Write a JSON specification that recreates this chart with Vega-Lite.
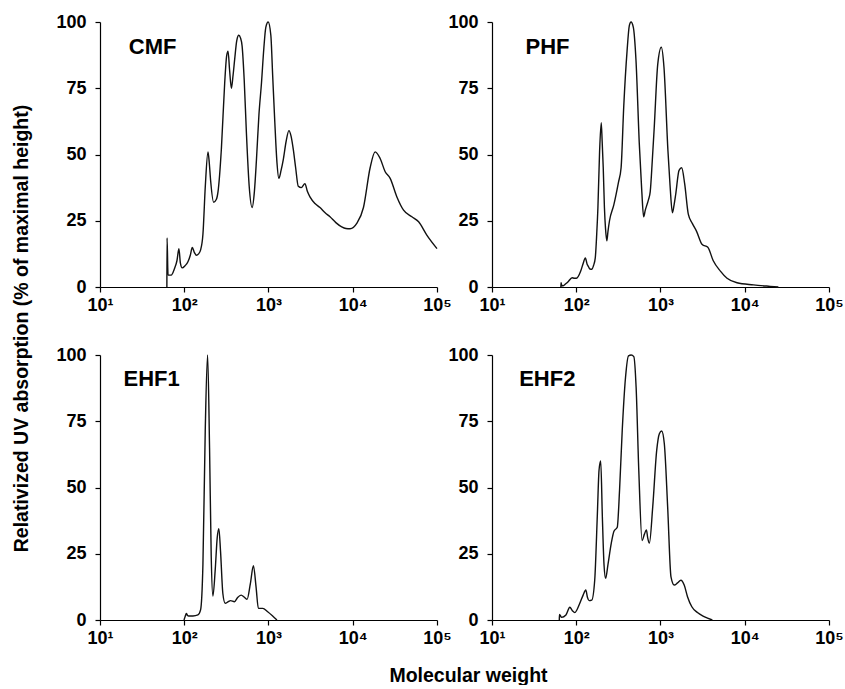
{
  "$schema": "https://vega.github.io/schema/vega-lite/v6.json",
  "background": "white",
  "padding": {"left": 11, "top": 13, "right": 5, "bottom": 0},
  "bounds": "flush",
  "columns": 2,
  "spacing": {"row": 68, "column": 55},
  "config": {
    "view": {"stroke": null},
    "font": "Liberation Sans",
    "axis": {
      "grid": false,
      "domainColor": "#000",
      "domainWidth": 1.2,
      "tickColor": "#000",
      "tickWidth": 1.2,
      "tickSize": 5,
      "labelFont": "Liberation Sans",
      "labelFontWeight": "bold",
      "labelFontSize": 18,
      "labelColor": "#000",
      "labelFlush": false,
      "titleFont": "Liberation Sans",
      "titleFontWeight": "bold",
      "titleFontSize": 19.5,
      "titleColor": "#000"
    },
    "axisX": {"labelPadding": 4},
    "axisY": {"labelPadding": 9}
  },
  "datasets": {
    "cmf": [
      {"mw": 62.2, "uv": 0}, {"mw": 62.5, "uv": 18.5}, {"mw": 64.2, "uv": 4.5}, {"mw": 70, "uv": 4.5},
      {"mw": 76.7, "uv": 7}, {"mw": 82, "uv": 10}, {"mw": 86.4, "uv": 14.5}, {"mw": 90, "uv": 9},
      {"mw": 94.6, "uv": 7.2}, {"mw": 102, "uv": 8}, {"mw": 110.6, "uv": 9.5}, {"mw": 118, "uv": 12},
      {"mw": 124.5, "uv": 14.9}, {"mw": 132, "uv": 13}, {"mw": 139, "uv": 12}, {"mw": 148, "uv": 12.5},
      {"mw": 156.4, "uv": 14}, {"mw": 166.7, "uv": 20}, {"mw": 177.8, "uv": 38}, {"mw": 191.3, "uv": 51},
      {"mw": 198, "uv": 47}, {"mw": 205.8, "uv": 40}, {"mw": 223.5, "uv": 32}, {"mw": 240, "uv": 33},
      {"mw": 251.7, "uv": 36}, {"mw": 275.7, "uv": 52}, {"mw": 302, "uv": 77}, {"mw": 318, "uv": 87},
      {"mw": 331, "uv": 89}, {"mw": 345, "uv": 82}, {"mw": 362.6, "uv": 75}, {"mw": 380, "uv": 80},
      {"mw": 397, "uv": 86}, {"mw": 420, "uv": 93}, {"mw": 443.6, "uv": 95}, {"mw": 465, "uv": 94},
      {"mw": 485.9, "uv": 91}, {"mw": 515, "uv": 78}, {"mw": 547, "uv": 58}, {"mw": 590, "uv": 38},
      {"mw": 639, "uv": 30}, {"mw": 680, "uv": 36}, {"mw": 719.5, "uv": 48}, {"mw": 770, "uv": 65},
      {"mw": 825.4, "uv": 77}, {"mw": 880, "uv": 90}, {"mw": 929, "uv": 98}, {"mw": 991, "uv": 100},
      {"mw": 1066, "uv": 95}, {"mw": 1120, "uv": 80}, {"mw": 1189, "uv": 62}, {"mw": 1260, "uv": 47},
      {"mw": 1327, "uv": 41}, {"mw": 1410, "uv": 44}, {"mw": 1496, "uv": 48}, {"mw": 1620, "uv": 55},
      {"mw": 1747, "uv": 59}, {"mw": 1850, "uv": 57}, {"mw": 1967, "uv": 52}, {"mw": 2100, "uv": 45},
      {"mw": 2256, "uv": 38}, {"mw": 2450, "uv": 37.5}, {"mw": 2707, "uv": 39}, {"mw": 2900, "uv": 36},
      {"mw": 3105, "uv": 34}, {"mw": 3562, "uv": 31.5}, {"mw": 4085, "uv": 30}, {"mw": 4700, "uv": 28},
      {"mw": 5373, "uv": 26.5}, {"mw": 6300, "uv": 24.3}, {"mw": 7396, "uv": 22.7}, {"mw": 8300, "uv": 22.1},
      {"mw": 9292, "uv": 22}, {"mw": 11160, "uv": 24}, {"mw": 13400, "uv": 30}, {"mw": 16080, "uv": 45},
      {"mw": 18450, "uv": 51}, {"mw": 21150, "uv": 48.5}, {"mw": 24260, "uv": 43.5}, {"mw": 27810, "uv": 41},
      {"mw": 33420, "uv": 34}, {"mw": 40100, "uv": 29}, {"mw": 50360, "uv": 26.5}, {"mw": 60510, "uv": 24.6},
      {"mw": 76040, "uv": 19.5}, {"mw": 100000, "uv": 14.5}
    ],
    "phf": [
      {"mw": 65.7, "uv": 0}, {"mw": 66, "uv": 1.6}, {"mw": 67.5, "uv": 0.5}, {"mw": 69.9, "uv": 0.5},
      {"mw": 75, "uv": 1.2}, {"mw": 80.1, "uv": 2}, {"mw": 89.3, "uv": 3.5}, {"mw": 95, "uv": 3.3},
      {"mw": 100.5, "uv": 3.3}, {"mw": 113, "uv": 6}, {"mw": 121, "uv": 9}, {"mw": 128.2, "uv": 11},
      {"mw": 135, "uv": 8.5}, {"mw": 137.9, "uv": 8}, {"mw": 145, "uv": 6.8}, {"mw": 153.7, "uv": 6.7},
      {"mw": 160, "uv": 8}, {"mw": 168.2, "uv": 11}, {"mw": 175, "uv": 20}, {"mw": 180.8, "uv": 30},
      {"mw": 189.2, "uv": 51}, {"mw": 198, "uv": 62}, {"mw": 203, "uv": 55}, {"mw": 209.1, "uv": 45},
      {"mw": 216, "uv": 30}, {"mw": 222.6, "uv": 22}, {"mw": 230.8, "uv": 17.4}, {"mw": 238, "uv": 21},
      {"mw": 248.1, "uv": 25}, {"mw": 279.2, "uv": 31}, {"mw": 316.9, "uv": 39.5}, {"mw": 340.6, "uv": 45},
      {"mw": 366.1, "uv": 68}, {"mw": 400.9, "uv": 89}, {"mw": 427.1, "uv": 98.7}, {"mw": 446.8, "uv": 100},
      {"mw": 476, "uv": 98}, {"mw": 511.9, "uv": 85.5}, {"mw": 560.3, "uv": 54}, {"mw": 600, "uv": 36},
      {"mw": 630.5, "uv": 26.5}, {"mw": 660, "uv": 29}, {"mw": 690, "uv": 31}, {"mw": 720, "uv": 33},
      {"mw": 755.4, "uv": 36}, {"mw": 800, "uv": 48}, {"mw": 841.9, "uv": 60}, {"mw": 927, "uv": 84},
      {"mw": 1023, "uv": 90.5}, {"mw": 1099, "uv": 83}, {"mw": 1225, "uv": 51.5}, {"mw": 1300, "uv": 38},
      {"mw": 1385, "uv": 28}, {"mw": 1450, "uv": 31}, {"mw": 1516, "uv": 35}, {"mw": 1660, "uv": 44},
      {"mw": 1784, "uv": 45}, {"mw": 1935, "uv": 39}, {"mw": 2138, "uv": 27.5}, {"mw": 2384, "uv": 24},
      {"mw": 2680, "uv": 21}, {"mw": 3126, "uv": 16}, {"mw": 3645, "uv": 15}, {"mw": 4214, "uv": 10},
      {"mw": 5140, "uv": 6}, {"mw": 6163, "uv": 3.3}, {"mw": 8088, "uv": 1.6}, {"mw": 12710, "uv": 0.8},
      {"mw": 19980, "uv": 0.25}, {"mw": 25060, "uv": 0}
    ],
    "ehf1": [
      {"mw": 99.3, "uv": 0}, {"mw": 103, "uv": 1.5}, {"mw": 105.8, "uv": 2.5}, {"mw": 109, "uv": 1.8},
      {"mw": 112.8, "uv": 1.5}, {"mw": 126.9, "uv": 1.5}, {"mw": 145.4, "uv": 1.9}, {"mw": 156.3, "uv": 3.8},
      {"mw": 166.6, "uv": 21}, {"mw": 177.5, "uv": 71.5}, {"mw": 189.2, "uv": 100}, {"mw": 199.7, "uv": 65},
      {"mw": 209, "uv": 24}, {"mw": 218.8, "uv": 9}, {"mw": 233.2, "uv": 19}, {"mw": 246.1, "uv": 31},
      {"mw": 257.6, "uv": 34.5}, {"mw": 269.5, "uv": 26}, {"mw": 287.2, "uv": 10}, {"mw": 306.1, "uv": 6.3},
      {"mw": 330, "uv": 6.8}, {"mw": 354, "uv": 7.3}, {"mw": 394.6, "uv": 6.9}, {"mw": 430, "uv": 8.5},
      {"mw": 473, "uv": 9.4}, {"mw": 520, "uv": 8.5}, {"mw": 557, "uv": 7.8}, {"mw": 609.8, "uv": 13.8},
      {"mw": 662, "uv": 20.5}, {"mw": 711.7, "uv": 12.5}, {"mw": 758.4, "uv": 4.4}, {"mw": 853.6, "uv": 4.4},
      {"mw": 977.7, "uv": 3.1}, {"mw": 1120, "uv": 1.5}, {"mw": 1260, "uv": 0}
    ],
    "ehf2": [
      {"mw": 62.9, "uv": 0}, {"mw": 63.2, "uv": 2.1}, {"mw": 67, "uv": 1}, {"mw": 75.4, "uv": 1.9},
      {"mw": 84, "uv": 4.8}, {"mw": 90, "uv": 3.5}, {"mw": 96.2, "uv": 2.8}, {"mw": 110.2, "uv": 6.3},
      {"mw": 120.7, "uv": 9.4}, {"mw": 129.8, "uv": 11.3}, {"mw": 136, "uv": 8.5}, {"mw": 142, "uv": 7.3},
      {"mw": 152.7, "uv": 7.5}, {"mw": 165.6, "uv": 15}, {"mw": 178.1, "uv": 40}, {"mw": 186.4, "uv": 56.5},
      {"mw": 195.1, "uv": 60}, {"mw": 204.1, "uv": 39}, {"mw": 213.5, "uv": 21}, {"mw": 223.4, "uv": 15.7},
      {"mw": 238.1, "uv": 21}, {"mw": 260.6, "uv": 29}, {"mw": 280.2, "uv": 33.5}, {"mw": 306.7, "uv": 35},
      {"mw": 326.6, "uv": 49}, {"mw": 351.3, "uv": 71.5}, {"mw": 384.6, "uv": 91.6}, {"mw": 417, "uv": 99.7},
      {"mw": 448.7, "uv": 100}, {"mw": 482.3, "uv": 99.4}, {"mw": 513.6, "uv": 87.8}, {"mw": 552.3, "uv": 56.5},
      {"mw": 605, "uv": 30}, {"mw": 644.5, "uv": 32.4}, {"mw": 680.6, "uv": 34}, {"mw": 705, "uv": 31},
      {"mw": 738.2, "uv": 29}, {"mw": 808.6, "uv": 42.7}, {"mw": 901.2, "uv": 64}, {"mw": 969.2, "uv": 70.3},
      {"mw": 1032, "uv": 71.3}, {"mw": 1110, "uv": 66.5}, {"mw": 1216, "uv": 42.7}, {"mw": 1332, "uv": 16.3},
      {"mw": 1456, "uv": 13.2}, {"mw": 1594, "uv": 14}, {"mw": 1746, "uv": 15}, {"mw": 1911, "uv": 13.2},
      {"mw": 2092, "uv": 8.8}, {"mw": 2354, "uv": 5}, {"mw": 2745, "uv": 2.8}, {"mw": 3290, "uv": 1.3},
      {"mw": 4126, "uv": 0}
    ]
  },
  "concat": [
    {
      "width": 337, "height": 265,
      "layer": [
        {
          "data": {"name": "cmf"},
          "mark": {"type": "line", "interpolate": "monotone", "color": "#111", "strokeWidth": 1.4},
          "encoding": {
            "x": {"field": "mw", "type": "quantitative", "scale": {"type": "log", "domain": [10, 100000], "nice": false},
                  "axis": {"values": [10, 100, 1000, 10000, 100000], "title": null,
                           "labelExpr": "'10' + ['⁰','¹','²','³','⁴','⁵'][round(log(datum.value)/LN10)]"}},
            "y": {"field": "uv", "type": "quantitative", "scale": {"domain": [0, 100], "nice": false},
                  "axis": {"values": [0, 25, 50, 75, 100], "title": "Relativized UV absorption (% of maximal height)",
                           "titleY": 306, "titlePadding": 24}}
          }
        },
        {
          "data": {"values": [{"label": "CMF"}]},
          "mark": {"type": "text", "align": "left", "baseline": "middle", "font": "Liberation Sans", "fontWeight": "bold", "fontSize": 22, "color": "#000"},
          "encoding": {"x": {"datum": 22}, "y": {"datum": 90.5}, "text": {"field": "label"}}
        }
      ]
    },
    {
      "width": 337, "height": 265,
      "layer": [
        {
          "data": {"name": "phf"},
          "mark": {"type": "line", "interpolate": "monotone", "color": "#111", "strokeWidth": 1.4},
          "encoding": {
            "x": {"field": "mw", "type": "quantitative", "scale": {"type": "log", "domain": [10, 100000], "nice": false},
                  "axis": {"values": [10, 100, 1000, 10000, 100000], "title": null,
                           "labelExpr": "'10' + ['⁰','¹','²','³','⁴','⁵'][round(log(datum.value)/LN10)]"}},
            "y": {"field": "uv", "type": "quantitative", "scale": {"domain": [0, 100], "nice": false},
                  "axis": {"values": [0, 25, 50, 75, 100], "title": null}}
          }
        },
        {
          "data": {"values": [{"label": "PHF"}]},
          "mark": {"type": "text", "align": "left", "baseline": "middle", "font": "Liberation Sans", "fontWeight": "bold", "fontSize": 22, "color": "#000"},
          "encoding": {"x": {"datum": 25}, "y": {"datum": 90.5}, "text": {"field": "label"}}
        }
      ]
    },
    {
      "width": 337, "height": 265,
      "layer": [
        {
          "data": {"name": "ehf1"},
          "mark": {"type": "line", "interpolate": "monotone", "color": "#111", "strokeWidth": 1.4},
          "encoding": {
            "x": {"field": "mw", "type": "quantitative", "scale": {"type": "log", "domain": [10, 100000], "nice": false},
                  "axis": {"values": [10, 100, 1000, 10000, 100000], "title": "Molecular weight",
                           "titleX": 368, "titlePadding": 19,
                           "labelExpr": "'10' + ['⁰','¹','²','³','⁴','⁵'][round(log(datum.value)/LN10)]"}},
            "y": {"field": "uv", "type": "quantitative", "scale": {"domain": [0, 100], "nice": false},
                  "axis": {"values": [0, 25, 50, 75, 100], "title": null}}
          }
        },
        {
          "data": {"values": [{"label": "EHF1"}]},
          "mark": {"type": "text", "align": "left", "baseline": "middle", "font": "Liberation Sans", "fontWeight": "bold", "fontSize": 22, "color": "#000"},
          "encoding": {"x": {"datum": 19}, "y": {"datum": 91}, "text": {"field": "label"}}
        }
      ]
    },
    {
      "width": 337, "height": 265,
      "layer": [
        {
          "data": {"name": "ehf2"},
          "mark": {"type": "line", "interpolate": "monotone", "color": "#111", "strokeWidth": 1.4},
          "encoding": {
            "x": {"field": "mw", "type": "quantitative", "scale": {"type": "log", "domain": [10, 100000], "nice": false},
                  "axis": {"values": [10, 100, 1000, 10000, 100000], "title": null,
                           "labelExpr": "'10' + ['⁰','¹','²','³','⁴','⁵'][round(log(datum.value)/LN10)]"}},
            "y": {"field": "uv", "type": "quantitative", "scale": {"domain": [0, 100], "nice": false},
                  "axis": {"values": [0, 25, 50, 75, 100], "title": null}}
          }
        },
        {
          "data": {"values": [{"label": "EHF2"}]},
          "mark": {"type": "text", "align": "left", "baseline": "middle", "font": "Liberation Sans", "fontWeight": "bold", "fontSize": 22, "color": "#000"},
          "encoding": {"x": {"datum": 21}, "y": {"datum": 91}, "text": {"field": "label"}}
        }
      ]
    }
  ]
}
